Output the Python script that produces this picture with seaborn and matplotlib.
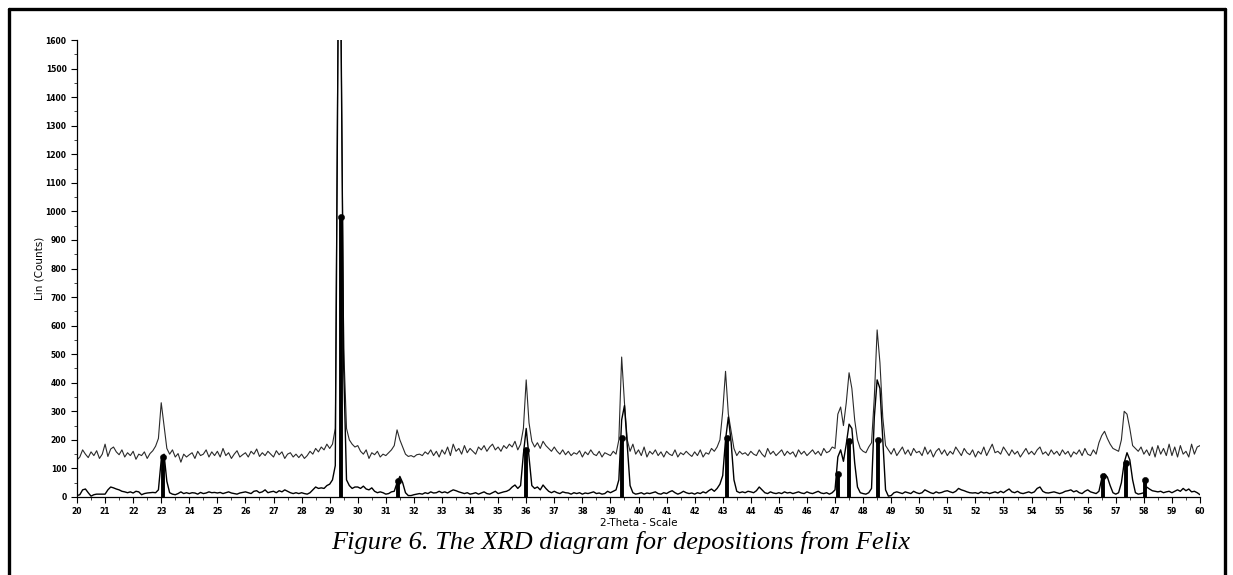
import numpy as np
import pandas as pd
import matplotlib
matplotlib.use("Agg")
import matplotlib.pyplot as plt
from matplotlib.lines import Line2D
import seaborn as sns

# ---------------- data ----------------
two_theta_start = 20.0
two_theta_step = 0.1

upper_counts = [
    130, 140, 165, 150, 138, 158, 145, 162, 135, 150,   # 20
    185, 142, 168, 175, 158, 148, 165, 140, 155, 145,   # 21
    160, 132, 150, 145, 158, 135, 152, 162, 178, 205,   # 22
    330, 250, 170, 150, 165, 140, 152, 122, 150, 140,   # 23
    148, 155, 135, 160, 145, 150, 165, 140, 158, 145,   # 24
    160, 140, 170, 145, 155, 135, 150, 162, 140, 148,   # 25
    155, 140, 160, 150, 168, 142, 155, 145, 160, 150,   # 26
    140, 162, 148, 158, 135, 150, 155, 140, 150, 138,   # 27
    150, 135, 145, 160, 150, 170, 158, 175, 165, 185,   # 28
    170, 185, 240, 1700, 1700, 520, 240, 200, 185, 175,  # 29
    180, 160, 150, 165, 135, 155, 148, 160, 140, 150,   # 30
    145, 155, 165, 180, 235, 200, 175, 150, 142, 145,   # 31
    140, 148, 150, 145, 158, 150, 165, 145, 160, 140,   # 32
    165, 150, 175, 145, 185, 160, 170, 150, 180, 155,   # 33
    170, 160, 150, 175, 165, 180, 160, 175, 185, 165,   # 34
    175, 160, 180, 170, 185, 175, 195, 165, 185, 240,   # 35
    410, 260, 195, 175, 190, 170, 195, 180, 170, 160,   # 36
    175, 160, 150, 165, 148, 160, 145, 155, 150, 162,   # 37
    140, 158, 148, 165, 150, 145, 160, 140, 155, 150,   # 38
    145, 160, 150, 200, 490, 330, 200, 160, 185, 150,   # 39
    165, 145, 175, 140, 160, 150, 165, 145, 158, 140,   # 40
    160, 150, 145, 165, 140, 155, 148, 160, 150, 142,   # 41
    158, 145, 165, 140, 155, 150, 170, 160, 175, 200,   # 42
    300, 440, 290, 230, 170, 145, 160, 150, 155, 145,   # 43
    160, 150, 145, 165, 150, 140, 170, 150, 160, 145,   # 44
    155, 165, 145, 160, 150, 158, 140, 165, 150, 160,   # 45
    145, 155, 165, 150, 160, 145, 170, 155, 160, 175,   # 46
    170, 290, 315, 250, 330, 435, 380, 270, 200, 170,   # 47
    160, 155, 175, 190, 350, 585, 470, 280, 180, 165,   # 48
    150, 170, 145, 160, 175, 150, 165, 145, 170, 155,   # 49
    160, 145, 175, 150, 165, 140, 160, 170, 150, 165,   # 50
    145, 160, 150, 175, 160, 145, 170, 155, 148, 165,   # 51
    140, 160, 150, 175, 145, 165, 185, 155, 160, 150,   # 52
    175, 160, 145, 165, 150, 160, 140, 155, 170, 150,   # 53
    160, 148, 165, 175, 150, 158, 145, 165, 150, 160,   # 54
    145, 165, 150, 160, 140, 158, 150, 165, 145, 170,   # 55
    150, 145, 165, 150, 190, 215, 230, 205, 185, 170,   # 56
    165, 160, 200, 300, 290, 240, 180, 170, 160, 175,   # 57
    150, 165, 145, 175, 140, 180, 150, 170, 145, 185,   # 58
    145, 175, 140, 180, 150, 160, 140, 185, 150, 175,   # 59
    180,                                                # 60
]

lower_counts = [
    5, 8, 25, 28, 15, 3, 8, 10, 10, 10,                 # 20
    10, 25, 35, 32, 28, 25, 20, 18, 15, 18,             # 21
    14, 20, 18, 8, 12, 14, 15, 16, 15, 25,              # 22
    130, 150, 55, 15, 10, 8, 12, 18, 12, 15,            # 23
    12, 15, 14, 10, 16, 12, 14, 18, 15, 16,             # 24
    14, 16, 12, 15, 18, 14, 12, 10, 14, 16,             # 25
    18, 15, 12, 20, 22, 15, 18, 25, 15, 18,             # 26
    20, 15, 22, 18, 25, 20, 15, 12, 15, 12,             # 27
    15, 12, 10, 15, 25, 35, 30, 32, 30, 40,             # 28
    45, 60, 110, 1650, 1700, 450, 60, 40, 30, 35,       # 29
    35, 30, 38, 28, 25, 32, 20, 15, 18, 15,             # 30
    10, 12, 18, 20, 50, 72, 50, 15, 5, 5,               # 31
    8, 10, 12, 10, 15, 12, 18, 14, 15, 20,              # 32
    15, 18, 14, 20, 25, 22, 18, 15, 12, 15,             # 33
    10, 12, 15, 10, 14, 18, 12, 10, 15, 20,             # 34
    12, 15, 18, 20, 25, 35, 42, 30, 40, 150,            # 35
    240, 140, 40, 30, 35, 25, 42, 30, 20, 15,           # 36
    20, 15, 12, 18, 15, 14, 10, 15, 12, 15,             # 37
    10, 14, 12, 15, 18, 12, 14, 10, 12, 20,             # 38
    15, 20, 25, 60, 270, 320, 180, 40, 15, 10,          # 39
    12, 15, 10, 14, 12, 15, 18, 12, 10, 15,             # 40
    12, 18, 22, 15, 10, 14, 20, 15, 12, 14,             # 41
    10, 15, 12, 18, 14, 22, 28, 20, 30, 45,             # 42
    75, 200, 280, 190, 60, 20, 15, 18, 15, 20,          # 43
    18, 15, 22, 35, 25, 15, 12, 18, 14, 12,             # 44
    15, 12, 18, 14, 16, 12, 15, 18, 14, 12,             # 45
    18, 14, 12, 16, 20, 14, 12, 15, 10, 15,             # 46
    25, 140, 165, 125, 185, 255, 240, 120, 35, 15,      # 47
    12, 10, 15, 30, 280, 410, 380, 200, 25, 3,          # 48
    5, 15, 18, 15, 12, 18, 15, 12, 20, 15,              # 49
    12, 15, 25, 20, 15, 12, 18, 14, 16, 20,             # 50
    22, 18, 15, 20, 30, 25, 22, 18, 15, 14,             # 51
    15, 12, 18, 14, 16, 12, 15, 18, 14, 20,             # 52
    15, 22, 28, 18, 15, 20, 14, 12, 15, 18,             # 53
    14, 18, 30, 35, 20, 15, 14, 16, 18, 15,             # 54
    12, 15, 20, 22, 25, 18, 22, 15, 12, 20,             # 55
    25, 18, 15, 12, 20, 65, 80, 70, 40, 15,             # 56
    10, 15, 50, 120, 155, 130, 60, 15, 10, 12,          # 57
    15, 35, 28, 22, 20, 18, 20, 15, 18, 20,             # 58
    15, 20, 25, 20, 30, 22, 28, 18, 20, 15,             # 59
    8,                                                  # 60
]

stick_positions = [23.05, 29.42, 31.42, 36.0, 39.4, 43.15, 47.12, 47.48, 48.52, 56.55, 57.38, 58.05]
stick_heights = [140, 980, 55, 165, 205, 205, 80, 195, 198, 75, 118, 58]

x_tick_values = list(range(20, 61))
y_tick_values = list(range(0, 1601, 100))

x_label = "2-Theta - Scale"
y_label = "Lin (Counts)"
caption = "Figure 6. The XRD diagram for depositions from Felix"

# ---------------- build ----------------
two_theta = two_theta_start + two_theta_step * np.arange(len(upper_counts))
df = pd.DataFrame({"two_theta": two_theta, "upper": upper_counts, "lower": lower_counts})
sticks = pd.DataFrame({"pos": stick_positions, "h": stick_heights})

sns.set_theme(style="white")
plt.rcParams["font.family"] = ["DejaVu Sans"]

fig = plt.figure(figsize=(12.33, 5.75), dpi=100)
ax = fig.add_axes([77 / 1233, 1 - 497 / 575, (1200 - 77) / 1233, (497 - 40) / 575])

sns.lineplot(data=df, x="two_theta", y="upper", ax=ax, color="#2a2a2a", linewidth=0.8)
sns.lineplot(data=df, x="two_theta", y="lower", ax=ax, color="black", linewidth=1.0)
ax.vlines(sticks["pos"], 0, sticks["h"], colors="black", linewidth=2.8, zorder=4)
sns.scatterplot(data=sticks, x="pos", y="h", ax=ax, color="black", s=20, marker="o",
                edgecolor="black", zorder=5)

ax.set_xlim(20, 60)
ax.set_ylim(0, 1600)
ax.set_xticks(x_tick_values)
ax.set_yticks(y_tick_values)
ax.set_xticks(np.arange(20, 60.01, 0.5), minor=True)
ax.set_yticks(np.arange(0, 1601, 50), minor=True)
ax.tick_params(axis="both", which="major", direction="out", length=4, width=0.8,
               labelsize=5.5, colors="black", bottom=True, left=True)
ax.tick_params(axis="both", which="minor", direction="out", length=2, width=0.6,
               bottom=True, left=True)
for lab in ax.get_xticklabels() + ax.get_yticklabels():
    lab.set_fontweight("bold")

for s in ["top", "right"]:
    ax.spines[s].set_visible(False)
for s in ["left", "bottom"]:
    ax.spines[s].set_color("black")
    ax.spines[s].set_linewidth(0.9)

ax.set_xlabel(x_label, fontsize=7.5, color="black", labelpad=1)
ax.set_ylabel(y_label, fontsize=7.5, color="black")
ax.yaxis.set_label_coords(-0.029, 0.5)
ax.grid(False)

fig.text(621 / 1233, 1 - 543 / 575, caption, ha="center", va="center",
         fontsize=19, style="italic", family=["Liberation Serif"], color="black")

# page frame
fw = 2.4
fig.add_artist(Line2D([9 / 1233, 9 / 1233], [0, 1 - 9 / 575], transform=fig.transFigure, color="black", lw=fw))
fig.add_artist(Line2D([9 / 1233, 1225 / 1233], [1 - 9 / 575, 1 - 9 / 575], transform=fig.transFigure, color="black", lw=fw))
fig.add_artist(Line2D([1225 / 1233, 1225 / 1233], [0, 1 - 9 / 575], transform=fig.transFigure, color="black", lw=fw))

fig.savefig("out.png", dpi=100, facecolor="white")
